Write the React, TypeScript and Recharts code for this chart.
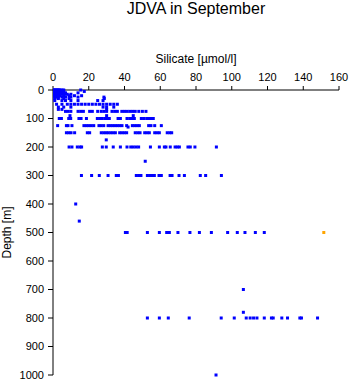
import React from "react";
import { ScatterChart, Scatter, XAxis, YAxis } from "recharts";

const TITLE = "JDVA in September";
const X_LABEL = "Silicate [µmol/l]";
const Y_LABEL = "Depth [m]";

const X_TICKS = [0, 20, 40, 60, 80, 100, 120, 140, 160];
const Y_TICKS = [0, 100, 200, 300, 400, 500, 600, 700, 800, 900, 1000];

// silicate values per sampled depth
const DEPTHS = [0, 3, 5, 10, 15, 20, 25, 30, 37, 50, 60, 68, 75, 90, 100, 125, 130, 150, 175, 200, 250, 300, 400, 460, 500, 700, 780, 800, 1000];
const SIL_AT_DEPTH: number[][] = [
  [0, 0.5, 1, 1.5, 2, 2.5, 3, 3.5, 4, 5, 6, 15.5],
  [0, 1, 2, 3, 4, 5, 6],
  [0.5, 1.5, 2.5, 3.5, 4.5, 5.5, 17.5],
  [0, 1, 2, 3, 4, 5, 6, 7, 14],
  [0.5, 1.5, 2.5, 3.5, 5, 6.5, 8, 10],
  [0, 1, 2, 3, 4, 6, 9, 12, 16],
  [1, 2, 3, 5, 7, 10, 14, 28.5],
  [1, 3, 6, 9, 28.7],
  [1, 5, 7, 10, 14, 25, 28],
  [2, 5, 8, 10, 12, 14, 16, 18, 20, 22, 24, 26, 28, 30, 32, 34, 36],
  [3, 6, 10, 28, 30, 34],
  [3, 5, 30],
  [7, 8.5, 10, 14, 15.5, 17, 20.5, 22, 25, 27, 28.5, 30, 33, 34.5, 36, 38.5, 40, 41.5, 43, 44.5, 46, 48, 50, 52],
  [9.5, 30, 44.9],
  [3.5, 4.7, 8.8, 9.9, 14.5, 15.7, 18.7, 24.8, 26.1, 27.4, 28.9, 30.2, 31.5, 36.4, 37.7, 41.4, 42.9, 44.2, 45.5, 49.4, 50.7, 52.4, 53.7, 55, 56.1],
  [2.6, 7.5, 8.4, 10.6, 17.3, 18.7, 20, 21.4, 22.8, 25.7, 27, 28.4, 30.8, 32.1, 33.4, 34.7, 36, 37.3, 38.6, 41.2, 44.4, 45.7, 47, 48.3, 53.5, 54.8, 56.9, 60.6],
  [42],
  [7.5, 8.8, 10.1, 12.1, 19.2, 20.5, 27, 28.4, 29.7, 30.9, 32.3, 33.6, 34.9, 37.3, 38.6, 39.9, 41.2, 46, 47.4, 48.7, 51.3, 52.6, 53.9, 56.9, 58.2, 59.5, 63.9, 65.3, 66.4],
  [29.8],
  [9, 10.6, 13.6, 15.1, 16, 27.6, 29.8, 33.7, 37.7, 41.4, 43.5, 44.9, 46.4, 47.9, 54.5, 59.5, 62.3, 63.2, 65.6, 68.3, 69.5, 70.7, 75.5, 76.8, 79.4, 91.4],
  [51.6],
  [15.9, 21.6, 25.9, 30.8, 35.4, 36.6, 46.6, 47.9, 49.2, 52.8, 54.1, 55.2, 56.7, 59.3, 60.6, 65.5, 66.6, 70.5, 73.5, 82.4, 85.4, 94.2],
  [12.7],
  [14.7],
  [40.5, 41.5, 52.8, 59.5, 63.6, 65.1, 69.9, 76.6, 81.9, 88.6, 97.7, 103.1, 107.4, 113.2, 118.2],
  [106.5],
  [106.5],
  [52.8, 59.5, 64.5, 76.2, 94.1, 101.4, 108.1, 110.3, 112.2, 114.1, 118.2, 122.2, 123.2, 128, 131.2, 138.1, 139, 148],
  [91.2],
];

// highlighted sample
const HIGHLIGHT_SIL = [151.5];
const HIGHLIGHT_DEPTH = [500];

const mainData = DEPTHS.flatMap((d, i) => SIL_AT_DEPTH[i].map((s) => ({ silicate: s, depth: d })));
const highlightData = HIGHLIGHT_SIL.map((s, i) => ({ silicate: s, depth: HIGHLIGHT_DEPTH[i] }));

const Dot = (props: any) => {
  const { cx, cy, fill } = props;
  if (cx == null || cy == null) return null;
  return <rect x={cx - 1.5} y={cy - 1.5} width={3} height={3} fill={fill} />;
};

const font = "'Liberation Sans', Arial, sans-serif";

export default function App() {
  return (
    <div style={{ position: "absolute", left: 0, top: 0, width: 351, height: 384, background: "#fff", fontFamily: font }}>
      <div style={{ position: "absolute", left: 0, width: 392, top: 0, textAlign: "center", fontSize: 16, lineHeight: "18px", paddingTop: 0 }}>
        {TITLE}
      </div>
      <div style={{ position: "absolute", left: 0, width: 392, top: 52, textAlign: "center", fontSize: 12, lineHeight: "14px" }}>
        {X_LABEL}
      </div>
      <ScatterChart width={351} height={384} margin={{ top: 60, right: 12, bottom: 9, left: 13 }}>
        <XAxis
          type="number"
          dataKey="silicate"
          orientation="top"
          domain={[0, 160]}
          ticks={X_TICKS}
          height={30}
          tickSize={4}
          tickMargin={5}
          axisLine={{ stroke: "#000" }}
          tickLine={{ stroke: "#000" }}
          tick={{ fill: "#000", fontSize: 11, fontFamily: font }}
          allowDataOverflow
        />
        <YAxis
          type="number"
          dataKey="depth"
          reversed
          domain={[0, 1000]}
          ticks={Y_TICKS}
          width={40}
          tickSize={5}
          tickMargin={4}
          axisLine={{ stroke: "#000" }}
          tickLine={{ stroke: "#000" }}
          tick={{ fill: "#000", fontSize: 11, fontFamily: font }}
          label={{ value: Y_LABEL, angle: -90, position: "insideLeft", offset: -6, style: { textAnchor: "middle", fontSize: 12, fill: "#000", fontFamily: font } }}
        />
        <Scatter data={mainData} fill="#0000ff" shape={Dot} isAnimationActive={false} />
        <Scatter data={highlightData} fill="#ffa500" shape={Dot} isAnimationActive={false} />
      </ScatterChart>
    </div>
  );
}
